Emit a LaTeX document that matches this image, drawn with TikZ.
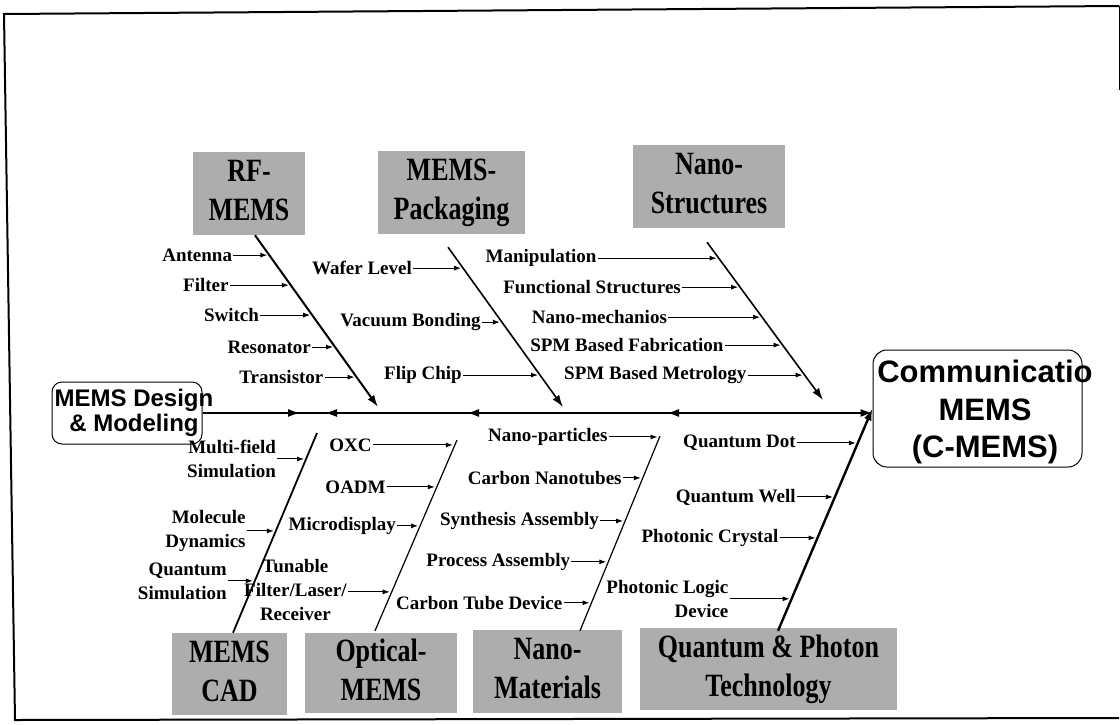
\documentclass[tikz,border=0pt]{standalone}
\usepackage{fontspec}
\setmainfont{Liberation Serif}
\newfontfamily\arialfont{Liberation Sans}
\usepackage{graphicx}
\usetikzlibrary{positioning,calc}
\usetikzlibrary{arrows.meta}

\tikzset{
  catbox/.style={fill=black!32, inner sep=0pt, font=\fontsize{26}{31}\selectfont\bfseries},
  hub/.style={draw, line width=1pt},
  lbl/.style={inner sep=1pt, align=right, font=\fontsize{19}{24}\selectfont\bfseries},
  bone/.style={line width=2pt, -{Latex[length=12pt,width=8pt]}},
  bonen/.style={line width=1.8pt},
  spine/.style={line width=1.5pt, -{Latex[length=12pt,width=8pt]}},
  larr/.style={line width=1pt, -{Latex[length=7pt,width=5pt]}, shorten >=2pt},
}
\newcommand{\cattext}[2]{\scalebox{1}[1.25]{\begin{tabular}{@{}c@{}}#1\\#2\end{tabular}}}
\newcommand{\tunable}{\begin{tabular}{@{}c@{}}Tunable\\Filter/Laser/\\Receiver\end{tabular}}

\begin{document}
\begin{tikzpicture}[x=1pt,y=-1pt]
\useasboundingbox (0,0) rectangle (1120,724);

% Outer frame (right side is cut off in the scan)
\draw[line width=2pt] (1119,6) -- (4,14) -- (15,720) -- (1119,718);
\draw[line width=1pt] (1119,6) -- (1119,90);

% Cause boxes, top row
\node[catbox, minimum width=112pt, minimum height=83pt] (rf) at (249,193.5) {\cattext{RF-}{MEMS}};
\node[catbox, minimum width=147pt, minimum height=83pt] (pk) at (451.5,192.5) {\cattext{MEMS-}{Packaging}};
\node[catbox, minimum width=152pt, minimum height=83pt] (ns) at (709,186.5) {\cattext{Nano-}{Structures}};

% Cause boxes, bottom row
\node[catbox, minimum width=115pt, minimum height=82pt] (cad) at (229.5,674) {\cattext{MEMS}{CAD}};
\node[catbox, minimum width=152pt, minimum height=80pt] (om) at (381,673) {\cattext{Optical-}{MEMS}};
\node[catbox, minimum width=149pt, minimum height=83pt] (nm) at (547.5,671.5) {\cattext{Nano-}{Materials}};
\node[catbox, minimum width=257pt, minimum height=82pt] (qp) at (768.5,669) {\cattext{Quantum \& Photon}{Technology}};

% Tail and head of the fish
\node[hub, rounded corners=10pt, minimum width=150pt, minimum height=62pt] (design) at (127,413) {};
\node[inner sep=0pt, align=center, font=\arialfont\bfseries\fontsize{24}{25}\selectfont] (designtxt) at (134,413) {MEMS Design\\\& Modeling};
\node[hub, rounded corners=14pt, minimum width=209pt, minimum height=117pt] (comm) at (977.5,408.5) {};
\node[inner sep=0pt, align=center, font=\arialfont\bfseries\fontsize{31}{37.5}\selectfont] (commtxt) at (985,412) {Communicatio\\MEMS\\(C-MEMS)};

% Bone ends
\coordinate (rftop) at ($(rf.south)+(6,0)$);
\coordinate (pktop) at ($(pk.south)+(-3.5,13)$);
\coordinate (nstop) at ($(ns.south)+(-2,14)$);
\coordinate (rfend) at (378,407);
\coordinate (pkend) at (563,407);
\coordinate (nsend) at (823,400);
\coordinate (cadfoot) at ($(cad.north)+(3.5,0)$);
\coordinate (omfoot) at ($(om.north)+(-6,-2)$);
\coordinate (nmfoot) at ($(nm.north)+(32.5,1)$);
\coordinate (qpfoot) at ($(qp.north)+(9.5,3)$);
\coordinate (cadend) at (317,433);
\coordinate (omend) at (457,440);
\coordinate (nmend) at (660,436);

% Spine with its arrowheads
\foreach \n/\x in {1/300, 2/325, 3/467, 4/667}
  \coordinate (s\n) at (\x,413);
\draw[spine] (design.east) -- (design.east -| comm.west);
\draw[spine] (design.east) -- (s1);
\draw[spine] (rfend |- s2) -- (s2);
\draw[spine] (pkend |- s3) -- (s3);
\draw[spine] (nsend |- s4) -- (s4);

% Bones
\draw[bone] (rftop) -- (rfend);
\draw[bone, line width=1.6pt] (pktop) -- (pkend);
\draw[bone, line width=1.6pt] (nstop) -- (nsend);
\draw[bonen] (cadfoot) -- (cadend);
\draw[bonen, line width=1.2pt] (omfoot) -- (omend);
\draw[bonen, line width=1.2pt] (nmfoot) -- (nmend);
\draw[bone, line width=2.4pt] (qpfoot) -- (comm.west);

% RF-MEMS
\foreach \txt/\pos/\gap [count=\i] in {Antenna/.116/36, Filter/.291/61, Switch/.465/52, Resonator/.651/23, Transistor/.826/32}{
  \coordinate (rf\i) at ($(rftop)!\pos!(rfend)$);
  \node[lbl, left=\gap pt of rf\i] (rfl\i) {\txt};
  \draw[larr] (rfl\i) -- (rf\i);
}

% MEMS-Packaging
\foreach \txt/\pos/\gap [count=\i] in {Wafer Level/.131/50, Vacuum Bonding/.469/20, Flip Chip/.8/77}{
  \coordinate (pk\i) at ($(pktop)!\pos!(pkend)$);
  \node[lbl, left=\gap pt of pk\i] (pkl\i) {\txt};
  \draw[larr] (pkl\i) -- (pk\i);
}

% Nano-Structures
\foreach \txt/\pos/\gap [count=\i] in {Manipulation/.101/121, Functional Structures/.285/58, Nano-mechanios/.475/94, SPM Based Fabrication/.652/58, SPM Based Metrology/.842/57}{
  \coordinate (ns\i) at ($(nstop)!\pos!(nsend)$);
  \node[lbl, left=\gap pt of ns\i] (nsl\i) {\txt};
  \draw[larr] (nsl\i) -- (ns\i);
}

% MEMS CAD
\foreach \txt/\pos/\gap [count=\i] in {Multi-field\\Simulation/.87/29, Molecule\\Dynamics/.51/29, Quantum\\Simulation/.26/27}{
  \coordinate (cad\i) at ($(cadfoot)!\pos!(cadend)$);
  \node[lbl, left=\gap pt of cad\i] (cadl\i) {\txt};
  \draw[larr] (cadl\i) -- (cad\i);
}

% Optical-MEMS
\foreach \txt/\pos/\gap [count=\i] in {OXC/.974/82, OADM/.754/50, Microdisplay/.55/23, \tunable/.204/44}{
  \coordinate (om\i) at ($(omfoot)!\pos!(omend)$);
  \node[lbl, left=\gap pt of om\i] (oml\i) {\txt};
  \draw[larr] (oml\i) -- (om\i);
}

% Nano-Materials
\foreach \txt/\pos/\gap [count=\i] in {Nano-particles/.995/51, Carbon Nanotubes/.785/20, Synthesis Assembly/.564/25, Process Assembly/.354/37, Carbon Tube Device/.144/28}{
  \coordinate (nm\i) at ($(nmfoot)!\pos!(nmend)$);
  \node[lbl, left=\gap pt of nm\i] (nml\i) {\txt};
  \draw[larr] (nml\i) -- (nm\i);
}

% Quantum & Photon Technology
\foreach \txt/\pos/\gap [count=\i] in {Quantum Dot/.845/61, Quantum Well/.602/38, Photonic Crystal/.418/38, Photonic Logic\\Device/.144/62}{
  \coordinate (qp\i) at ($(qpfoot)!\pos!(comm.west)$);
  \node[lbl, left=\gap pt of qp\i] (qpl\i) {\txt};
  \draw[larr] (qpl\i) -- (qp\i);
}

\end{tikzpicture}
\end{document}
